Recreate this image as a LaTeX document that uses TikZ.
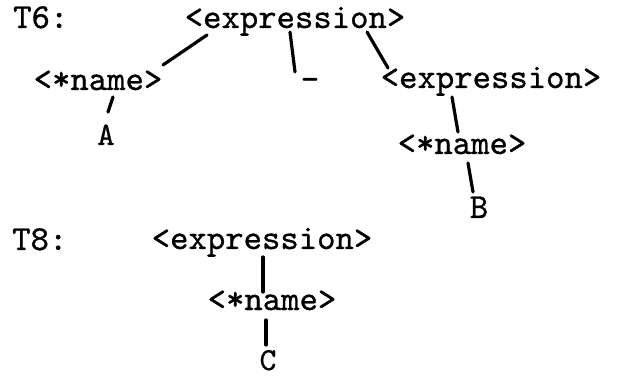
\documentclass[tikz,border=0pt]{standalone}
\usepackage{fontspec}
\setmainfont{lmmono10-regular.otf}[FakeBold=0.8]
\begin{document}
\begin{tikzpicture}[x=1pt,y=-1pt,
    every node/.style={anchor=base,inner sep=0pt,font=\fontsize{35}{35}\selectfont}]
      \useasboundingbox (0,0) rectangle (621,379);
      \draw
        (13,28) node[anchor=base west] (t6){T6:}
        (295,28) node (e1){<expression>}
        (98,90) node (n1){<*name>}
        (106,145) node[font=\fontsize{33}{33}\selectfont] (a){A}
        (310,90) node (minus){-}
        (491,88) node (e2){<expression>}
        (462,154) node (n2){<*name>}
        (479,218) node (b){B}
        (12,250) node[anchor=base west] (t8){T8:}
        (262,249) node (e3){<expression>}
        (272,310) node (n3){<*name>}
        (268,370) node[font=\fontsize{32}{32}\selectfont] (c){C};
      \begin{scope}[line width=3.2pt,line cap=round]
        \draw ([shift={(-88,7)}]e1.base) to ([shift={(65,-25)}]n1.base);
        \draw ([shift={(-5,4)}]e1.base) to ([shift={(-15,-18)}]minus.base);
        \draw ([shift={(72,4)}]e1.base) to ([shift={(-103,-20)}]e2.base);
        \draw ([shift={(15,7)}]n1.base) to ([shift={(2,-33)}]a.base);
        \draw ([shift={(-39,9)}]e2.base) to ([shift={(-4,-22)}]n2.base);
        \draw ([shift={(6,9)}]n2.base) to ([shift={(-6,-26)}]b.base);
        \draw ([shift={(1,8)}]e3.base) to ([shift={(-9,-18)}]n3.base);
        \draw ([shift={(-6,10)}]n3.base) to ([shift={(-2,-25)}]c.base);
      \end{scope}
    \end{tikzpicture}
\end{document}
